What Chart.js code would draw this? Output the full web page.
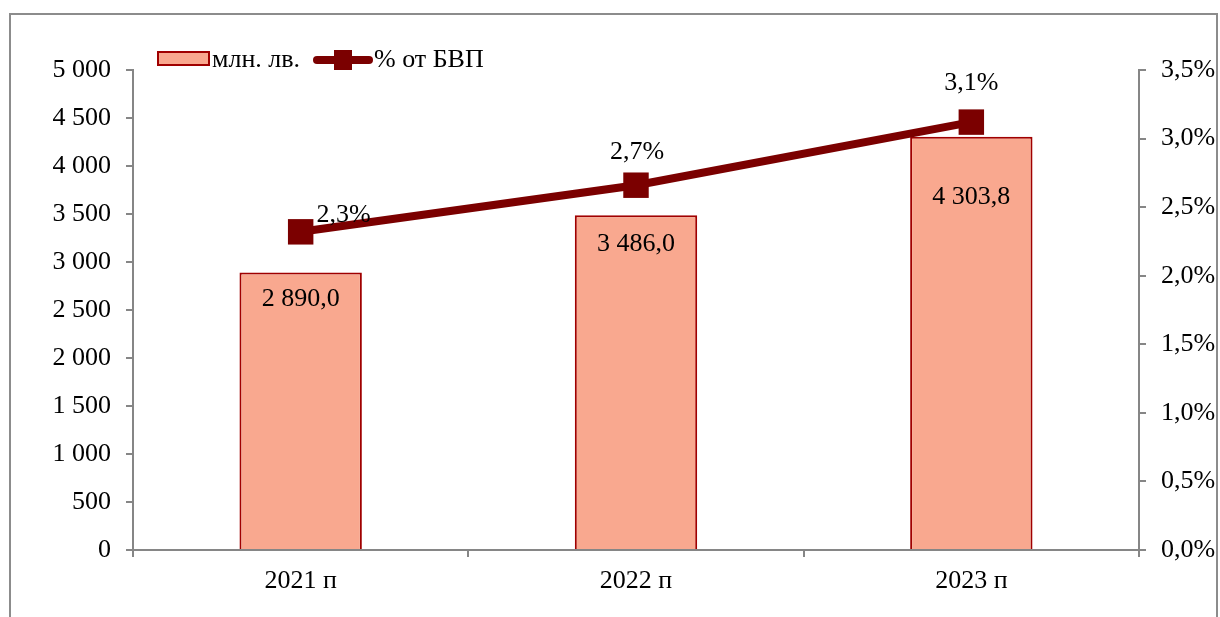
<!DOCTYPE html>
<html>
<head>
<meta charset="utf-8">
<script src="https://cdn.jsdelivr.net/npm/chart.js@4.4.1/dist/chart.umd.min.js"></script>
<style>
  body { margin: 0; background: #fff; }
  canvas { display: block; }
</style>
</head>
<body>
<canvas id="chart" width="1220" height="617"></canvas>
<script>
// data
const categories = ["2021 п", "2022 п", "2023 п"];
const amounts = [2890.0, 3486.0, 4303.8];      // млн. лв.
const gdpShare = [2.32, 2.66, 3.12];            // % от БВП
const leftTicks = { min: 0, max: 5000, step: 500 };
const rightTicks = { min: 0, max: 3.5, step: 0.5 };

const FONT = "'Liberation Serif', 'Times New Roman', serif";
const SIZE = 26;
const AXIS = "#868686";
const BAR_FILL = "#F9A88F";
const BAR_EDGE = "#A00000";
const LINE = "#7B0000";

const fmtThousands = (v, dec) => {
  let s = v.toFixed(dec).replace(".", ",");
  let [i, d] = s.split(",");
  i = i.replace(/\B(?=(\d{3})+(?!\d))/g, " ");
  return d ? i + "," + d : i;
};

// offsets for value labels (pixels)
const barLabelDrop = [27, 29, 60];
const lineLabelShift = [[43, -17], [1, -33], [0, -39]];

const frame = {
  id: "frame",
  beforeDraw: (chart) => {
    const { ctx } = chart;
    ctx.save();
    ctx.strokeStyle = "#8C8C8C";
    ctx.lineWidth = 2;
    ctx.beginPath();
    ctx.moveTo(10, 617);
    ctx.lineTo(10, 14);
    ctx.lineTo(1217, 14);
    ctx.lineTo(1217, 617);
    ctx.stroke();
    ctx.restore();
  }
};

const valueLabels = {
  id: "valueLabels",
  afterDatasetsDraw: (chart) => {
    const { ctx } = chart;
    ctx.save();
    ctx.font = SIZE + "px " + FONT;
    ctx.fillStyle = "#000";
    ctx.textAlign = "center";
    ctx.textBaseline = "middle";
    chart.getDatasetMeta(0).data.forEach((bar, i) => {
      ctx.fillText(fmtThousands(amounts[i], 1), bar.x, bar.y + barLabelDrop[i]);
    });
    chart.getDatasetMeta(1).data.forEach((pt, i) => {
      const txt = gdpShare[i].toFixed(1).replace(".", ",") + "%";
      ctx.fillText(txt, pt.x + lineLabelShift[i][0], pt.y + lineLabelShift[i][1]);
    });
    ctx.restore();
  }
};

const legendBox = {
  id: "legendBox",
  afterDraw: (chart) => {
    const { ctx } = chart;
    ctx.save();
    // bar entry
    ctx.fillStyle = BAR_FILL;
    ctx.strokeStyle = BAR_EDGE;
    ctx.lineWidth = 2;
    ctx.fillRect(158, 52, 51, 13);
    ctx.strokeRect(158, 52, 51, 13);
    ctx.font = SIZE + "px " + FONT;
    ctx.fillStyle = "#000";
    ctx.textBaseline = "middle";
    ctx.fillText(chart.data.datasets[0].label, 212, 60);
    // line entry
    ctx.strokeStyle = LINE;
    ctx.lineWidth = 8;
    ctx.lineCap = "round";
    ctx.beginPath();
    ctx.moveTo(317, 60);
    ctx.lineTo(369, 60);
    ctx.stroke();
    ctx.fillStyle = LINE;
    ctx.fillRect(334, 50, 18, 20);
    ctx.fillStyle = "#000";
    ctx.fillText(chart.data.datasets[1].label, 374, 60);
    ctx.restore();
  }
};

new Chart(document.getElementById("chart"), {
  type: "bar",
  data: {
    labels: categories,
    datasets: [
      {
        label: "млн. лв.",
        data: amounts,
        yAxisID: "y",
        backgroundColor: BAR_FILL,
        borderColor: BAR_EDGE,
        borderWidth: 2,
        barPercentage: 0.365,
        categoryPercentage: 1,
        order: 2
      },
      {
        type: "line",
        label: "% от БВП",
        data: gdpShare,
        yAxisID: "y1",
        borderColor: LINE,
        borderWidth: 8,
        pointStyle: "rect",
        pointRadius: 18,
        pointBackgroundColor: LINE,
        pointBorderWidth: 0,
        tension: 0,
        order: 1
      }
    ]
  },
  options: {
    responsive: false,
    animation: false,
    layout: { padding: { top: 70, left: 0, right: 0, bottom: 0 } },
    plugins: {
      legend: { display: false },
      tooltip: { enabled: false }
    },
    scales: {
      x: {
        offset: true,
        grid: { offset: true, drawOnChartArea: false, drawTicks: true, tickLength: 7, color: AXIS, lineWidth: 2 },
        border: { color: AXIS, width: 2 },
        ticks: { color: "#000", font: { family: FONT, size: SIZE }, padding: 9 },
        afterFit: (s) => { s.height = 67; }
      },
      y: {
        position: "left",
        min: leftTicks.min,
        max: leftTicks.max,
        grid: { drawOnChartArea: false, drawTicks: true, tickLength: 7, color: AXIS, lineWidth: 2 },
        border: { color: AXIS, width: 2 },
        ticks: {
          stepSize: leftTicks.step,
          color: "#000",
          font: { family: FONT, size: SIZE },
          padding: 15,
          callback: (v) => fmtThousands(v, 0)
        },
        afterFit: (s) => { s.width = 133; }
      },
      y1: {
        position: "right",
        min: rightTicks.min,
        max: rightTicks.max,
        grid: { drawOnChartArea: false, drawTicks: true, tickLength: 7, color: AXIS, lineWidth: 2 },
        border: { color: AXIS, width: 2 },
        ticks: {
          stepSize: rightTicks.step,
          color: "#000",
          font: { family: FONT, size: SIZE },
          padding: 15,
          callback: (v) => v.toFixed(1).replace(".", ",") + "%"
        },
        afterFit: (s) => { s.width = 81; }
      }
    }
  },
  plugins: [frame, valueLabels, legendBox]
});
</script>
</body>
</html>
